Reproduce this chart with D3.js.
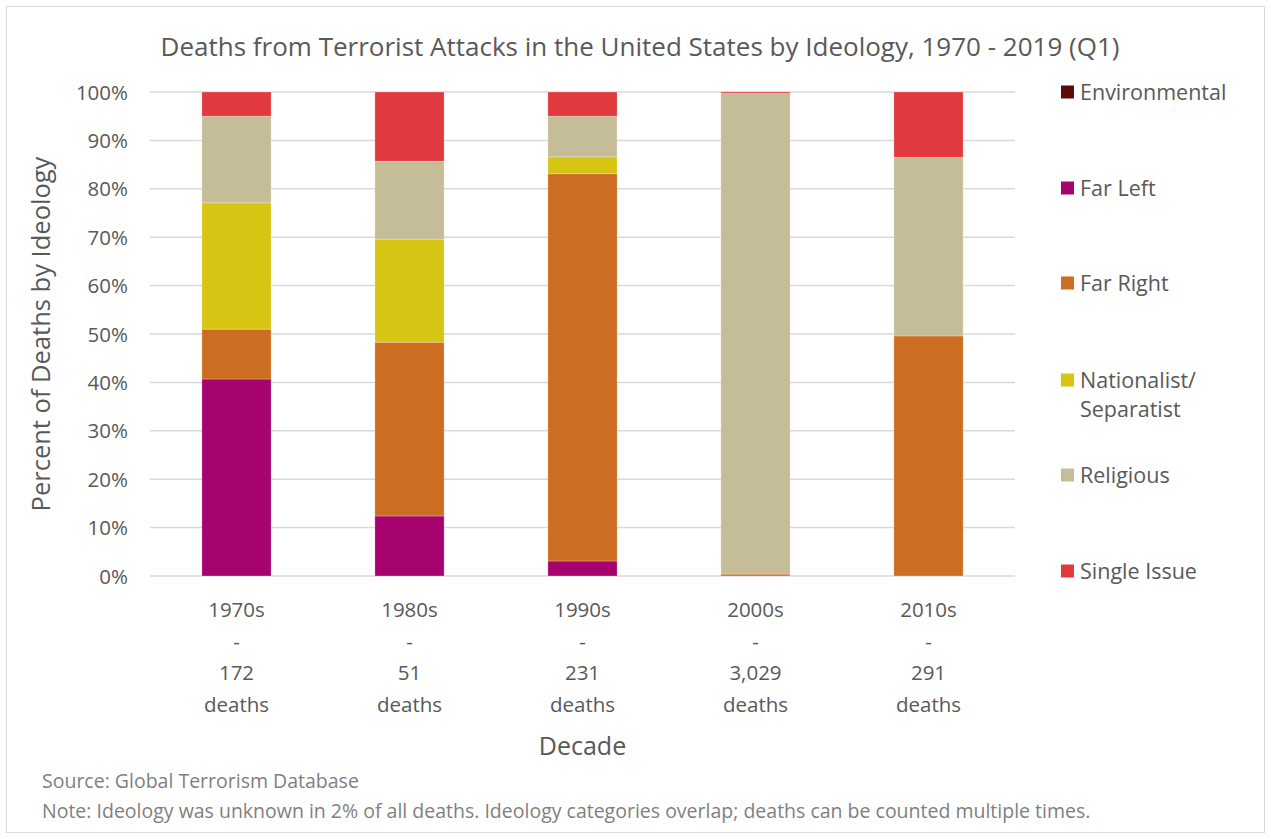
<!DOCTYPE html>
<html>
<head>
<meta charset="utf-8">
<script src="https://cdn.jsdelivr.net/npm/d3@7"></script>
<style>
  body { margin: 0; background: #fff; }
  svg text { font-family: "Open Sans", "Noto Sans", sans-serif; fill: #595959; }
</style>
</head>
<body>
<div id="chart"></div>
<script>
const WIDTH = 1271
const HEIGHT = 839

// data, percent of deaths by ideology per decade
const decades = ['1970s', '1980s', '1990s', '2000s', '2010s']
const deaths = ['172', '51', '231', '3,029', '291']
const ideologies = ['Environmental', 'Far Left', 'Far Right', 'Nationalist/Separatist', 'Religious', 'Single Issue']
const environmental = [0, 0, 0, 0, 0]
const farLeft = [40.7, 12.4, 3.1, 0, 0]
const farRight = [10.3, 35.9, 80.0, 0.4, 49.6]
const nationalist = [26.1, 21.3, 3.5, 0, 0]
const religious = [17.9, 16.1, 8.4, 99.3, 36.9]
const singleIssue = [5.0, 14.3, 5.0, 0.3, 13.5]
const yTicks = [0, 10, 20, 30, 40, 50, 60, 70, 80, 90, 100]

const COLORS = ['#5b0a0a', '#a6036f', '#cb6e21', '#d7c514', '#c4bd97', '#e03a3e']
const legendLines = [['Environmental'], ['Far Left'], ['Far Right'], ['Nationalist/', 'Separatist'], ['Religious'], ['Single Issue']]

const series = [environmental, farLeft, farRight, nationalist, religious, singleIssue]
const table = decades.map((d, i) => {
  let row = { decade: d }
  ideologies.forEach((k, j) => { row[k] = series[j][i] })
  return row
})

const m = { left: 150, right: 256, top: 92, bottom: 263 }

const svg = d3.select('#chart').append('svg')
  .attr('width', WIDTH)
  .attr('height', HEIGHT)

svg.append('rect')
  .attr('x', 6.5).attr('y', 6.5)
  .attr('width', WIDTH - 13).attr('height', HEIGHT - 13)
  .attr('fill', '#fff')
  .attr('stroke', '#d9d9d9')

const x = d3.scaleBand()
  .domain(decades)
  .range([m.left, WIDTH - m.right])
  .paddingInner(0.6)
  .paddingOuter(0.3)

const y = d3.scaleLinear()
  .domain([0, 100])
  .range([HEIGHT - m.bottom, m.top])

// gridlines
svg.append('g')
  .selectAll('line')
  .data(yTicks)
  .enter().append('line')
  .attr('x1', m.left).attr('x2', WIDTH - m.right)
  .attr('y1', d => y(d)).attr('y2', d => y(d))
  .attr('stroke', '#d9d9d9')
  .attr('stroke-width', 1.5)

// y axis labels
const yAxis = svg.append('g')
  .attr('transform', `translate(${m.left - 22},0)`)
  .call(d3.axisLeft(y).tickValues(yTicks).tickFormat(d => d + '%').tickSize(0).tickPadding(0))
yAxis.select('.domain').remove()
yAxis.selectAll('text')
  .attr('font-size', 20.5)
  .attr('dy', '0.35em')
  .style('font-family', '"Open Sans", sans-serif')
  .style('fill', '#595959')

const stack = d3.stack().keys(ideologies)
const layers = stack(table)

svg.append('g')
  .selectAll('g')
  .data(layers)
  .enter().append('g')
  .attr('fill', (d, i) => COLORS[i])
  .selectAll('rect')
  .data(d => d)
  .enter().append('rect')
  .attr('x', d => x(d.data.decade))
  .attr('width', x.bandwidth())
  .attr('y', d => y(d[1]))
  .attr('height', d => y(d[0]) - y(d[1]))
  .attr('stroke', '#ffffff')
  .attr('stroke-opacity', 0.35)
  .attr('stroke-width', 0.75)

// x axis labels (multiline)
const xl = svg.append('g')
  .selectAll('text')
  .data(decades)
  .enter().append('text')
  .attr('text-anchor', 'middle')
  .attr('font-size', 20.5)
xl.each(function (d, i) {
  const lines = [d, '-', deaths[i], 'deaths']
  d3.select(this).selectAll('tspan')
    .data(lines)
    .enter().append('tspan')
    .attr('x', x(d) + x.bandwidth() / 2)
    .attr('y', (l, j) => 617 + j * 31.5)
    .text(l => l)
})

svg.append('text')
  .attr('x', (m.left + WIDTH - m.right) / 2)
  .attr('y', 755)
  .attr('text-anchor', 'middle')
  .attr('font-size', 25)
  .text('Decade')

svg.append('text')
  .attr('transform', `translate(50,${(y(0) + y(100)) / 2}) rotate(-90)`)
  .attr('text-anchor', 'middle')
  .attr('font-size', 25.5)
  .text('Percent of Deaths by Ideology')

svg.append('text')
  .attr('x', 640)
  .attr('y', 56)
  .attr('text-anchor', 'middle')
  .attr('font-size', 26)
  .text('Deaths from Terrorist Attacks in the United States by Ideology, 1970 - 2019 (Q1)')

// legend
const legendY = [92, 188, 283, 380, 475, 571]
const lg = svg.append('g')
  .selectAll('g')
  .data(legendLines)
  .enter().append('g')
  .attr('transform', (d, i) => `translate(1061,${legendY[i]})`)
lg.append('rect')
  .attr('x', 0).attr('y', -6.5)
  .attr('width', 13).attr('height', 13)
  .attr('fill', (d, i) => COLORS[i])
lg.append('text')
  .attr('font-size', 21.5)
  .selectAll('tspan')
  .data(d => d)
  .enter().append('tspan')
  .attr('x', 19)
  .attr('y', (d, j) => j * 29)
  .attr('dy', '0.35em')
  .text(d => d)

svg.append('text')
  .attr('x', 42).attr('y', 788)
  .attr('font-size', 19.5)
  .style('fill', '#7f7f7f')
  .text('Source: Global Terrorism Database')

svg.append('text')
  .attr('x', 42).attr('y', 818)
  .attr('font-size', 19.5)
  .style('fill', '#7f7f7f')
  .text('Note:  Ideology was unknown in 2% of all deaths. Ideology categories overlap; deaths can be counted multiple times.')
</script>
</body>
</html>
